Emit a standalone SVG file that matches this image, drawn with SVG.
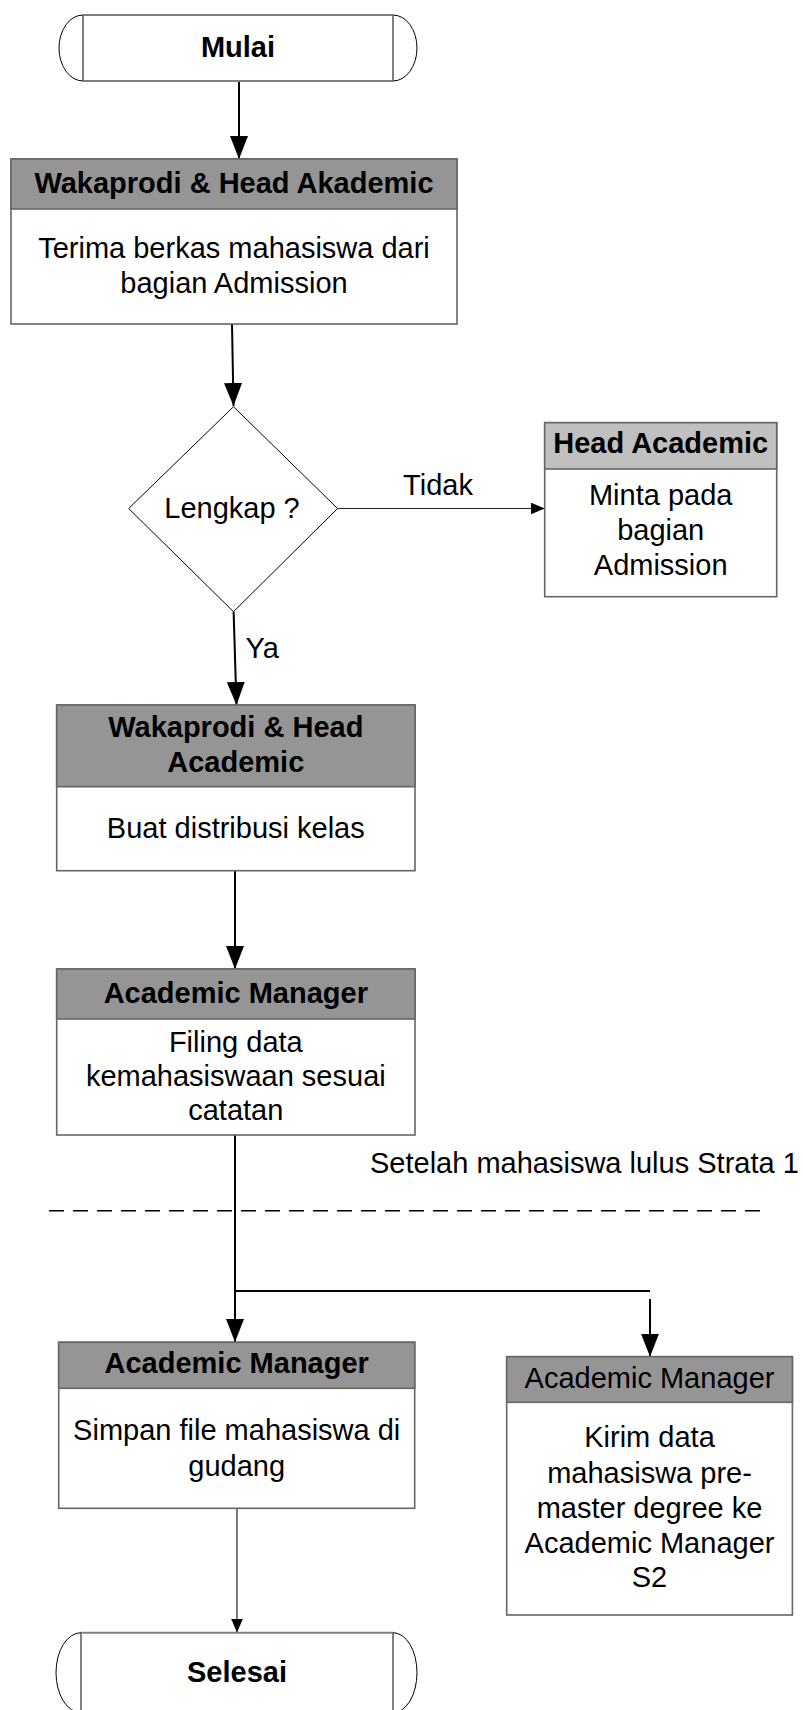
<svg xmlns="http://www.w3.org/2000/svg" width="803" height="1710" viewBox="0 0 803 1710">
<style>
text{font-family:"Liberation Sans",Arial,sans-serif;font-size:29px;text-anchor:middle;fill:#000}
.b{font-weight:bold}
.box{fill:#fff;stroke:#666;stroke-width:1.6}
.hd{fill:#959595;stroke:#666;stroke-width:1.6}
.hdl{fill:#c0c0c0;stroke:#666;stroke-width:1.6}
.tline{fill:none;stroke:#808080;stroke-width:2}
.tarc{fill:none;stroke:#000;stroke-width:1}
.conn{fill:none;stroke:#000;stroke-width:2}
.thin{fill:none;stroke:#222;stroke-width:1.2}
</style>
<defs>
<marker id="ah" viewBox="0 0 23 18" refX="23" refY="9" markerWidth="23" markerHeight="18" markerUnits="userSpaceOnUse" orient="auto">
<path d="M0,0 L23,9 L0,18 z" fill="#000"/>
</marker>
<marker id="ahs" viewBox="0 0 14 12" refX="14" refY="6" markerWidth="14" markerHeight="12" markerUnits="userSpaceOnUse" orient="auto">
<path d="M0,0 L14,6 L0,12 z" fill="#000"/>
</marker>
</defs>
<rect width="803" height="1710" fill="#fff"/>

<g id="connectors">
<line class="conn" x1="239" y1="81" x2="239" y2="159" marker-end="url(#ah)"/>
<line class="conn" x1="232" y1="324" x2="233.5" y2="406" marker-end="url(#ah)"/>
<line class="thin" x1="337.6" y1="508.5" x2="544.7" y2="508.5" marker-end="url(#ahs)"/>
<line class="conn" x1="233.6" y1="611.7" x2="236.5" y2="705" marker-end="url(#ah)"/>
<line class="conn" x1="235" y1="870.7" x2="235" y2="969" marker-end="url(#ah)"/>
<line class="conn" x1="235" y1="1127" x2="235" y2="1342" marker-end="url(#ah)"/>
<line class="conn" x1="235" y1="1291" x2="650" y2="1291"/>
<line class="conn" x1="650" y1="1299" x2="650" y2="1356.7" marker-end="url(#ah)"/>
<line class="thin" x1="237" y1="1508.3" x2="237" y2="1632.5" marker-end="url(#ahs)"/>
<text x="438" y="495">Tidak</text>
<text x="245.5" y="658" style="text-anchor:start">Ya</text>
</g>

<g id="separator">
<line x1="49" y1="1210.7" x2="768" y2="1210.7" stroke="#000" stroke-width="1.5" stroke-dasharray="15 9"/>
<text x="370" y="1173" style="text-anchor:start">Setelah mahasiswa lulus Strata 1</text>
</g>

<g id="mulai">
<path class="tline" d="M83,15 H393 M83,81 H393 M83,15 V81 M393,15 V81"/>
<path class="tarc" d="M83,15 A24,33 0 0 0 83,81 M393,15 A24,33 0 0 1 393,81"/>
<text class="b" x="238" y="57">Mulai</text>
</g>

<g id="terima">
<rect class="box" x="11" y="159" width="446" height="165"/>
<rect class="hd" x="11" y="159" width="446" height="50"/>
<text class="b" x="234" y="193">Wakaprodi &amp; Head Akademic</text>
<text x="234" y="258">Terima berkas mahasiswa dari</text>
<text x="234" y="293">bagian Admission</text>
</g>

<g id="lengkap">
<polygon points="233.5,406.7 337.6,508.5 233.5,611.7 128.7,508.5" fill="#fff" stroke="#000" stroke-width="1"/>
<text x="232" y="518">Lengkap ?</text>
</g>

<g id="minta">
<rect class="box" x="544.7" y="422.7" width="232" height="174"/>
<rect class="hdl" x="544.7" y="422.7" width="232" height="46.3"/>
<text class="b" x="660.7" y="453">Head Academic</text>
<text x="660.7" y="505">Minta pada</text>
<text x="660.7" y="540">bagian</text>
<text x="660.7" y="575">Admission</text>
</g>

<g id="distribusi">
<rect class="box" x="56.7" y="705" width="358.3" height="165.7"/>
<rect class="hd" x="56.7" y="705" width="358.3" height="81.7"/>
<text class="b" x="235.8" y="736.7">Wakaprodi &amp; Head</text>
<text class="b" x="235.8" y="771.7">Academic</text>
<text x="235.8" y="837.7">Buat distribusi kelas</text>
</g>

<g id="filing">
<rect class="box" x="56.7" y="969" width="358.3" height="166"/>
<rect class="hd" x="56.7" y="969" width="358.3" height="50"/>
<text class="b" x="235.8" y="1003.3">Academic Manager</text>
<text x="235.8" y="1051.7">Filing data</text>
<text x="235.8" y="1086">kemahasiswaan sesuai</text>
<text x="235.8" y="1120">catatan</text>
</g>

<g id="simpan">
<rect class="box" x="58.7" y="1342.3" width="356" height="166"/>
<rect class="hd" x="58.7" y="1342.3" width="356" height="46"/>
<text class="b" x="236.7" y="1373.3">Academic Manager</text>
<text x="236.7" y="1440">Simpan file mahasiswa di</text>
<text x="236.7" y="1476">gudang</text>
</g>

<g id="kirim">
<rect class="box" x="506.7" y="1356.7" width="285.7" height="258.3"/>
<rect class="hd" x="506.7" y="1356.7" width="285.7" height="45.6"/>
<text x="649.5" y="1388.3">Academic Manager</text>
<text x="649.5" y="1446.7">Kirim data</text>
<text x="649.5" y="1483">mahasiswa pre-</text>
<text x="649.5" y="1518">master degree ke</text>
<text x="649.5" y="1553">Academic Manager</text>
<text x="649.5" y="1586.7">S2</text>
</g>

<g id="selesai">
<path class="tline" d="M81,1632.7 H393 M81,1712.7 H393 M81,1632.7 V1712.7 M393,1632.7 V1712.7"/>
<path class="tarc" d="M81,1632.7 A25,40 0 0 0 81,1712.7 M393,1632.7 A24,40 0 0 1 393,1712.7"/>
<text class="b" x="237" y="1682">Selesai</text>
</g>
</svg>
